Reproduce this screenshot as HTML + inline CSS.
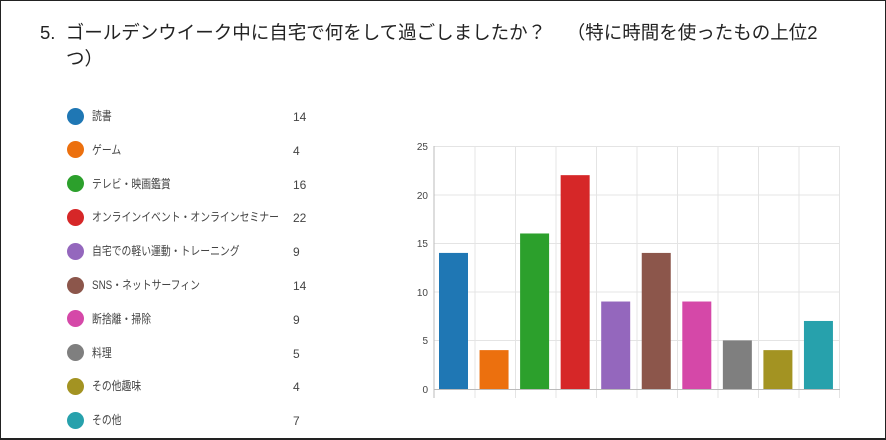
<!DOCTYPE html>
<html><head><meta charset="utf-8"><style>
body{margin:0;width:886px;height:440px;overflow:hidden;background:#fff;}
.frame{position:absolute;left:0;top:0;width:884px;height:437px;border:1px solid #222;border-bottom-width:2px;}
.t{position:absolute;font-family:"Liberation Sans","Noto Sans CJK JP",sans-serif;color:#333;white-space:nowrap;}
.title{font-size:18.5px;left:40px;top:20px;line-height:26px;color:#222;}
.leg{font-size:12px;color:#444;line-height:16px;}
.lab{transform:scaleX(0.82);transform-origin:left center;}
.dot{position:absolute;width:17px;height:17px;border-radius:50%;left:67px;}
</style></head><body>
<div class="frame"></div>
<div class="t title">5.&nbsp; ゴールデンウイーク中に自宅で何をして過ごしましたか？&nbsp;&nbsp;&nbsp;&nbsp;（特に時間を使ったもの上位2<br><span style="padding-left:26px">つ）</span></div>
<div id="legend"></div>
<svg style="position:absolute;left:0;top:0" width="886" height="440" font-family="Liberation Sans, sans-serif" font-size="10" fill="#444">
<g stroke="#e4e4e4" stroke-width="1">
<line x1="434" y1="146.5" x2="840" y2="146.5"/><line x1="434" y1="195" x2="840" y2="195"/><line x1="434" y1="243.5" x2="840" y2="243.5"/><line x1="434" y1="292" x2="840" y2="292"/><line x1="434" y1="340.5" x2="840" y2="340.5"/>
<line x1="475" y1="146" x2="475" y2="398"/><line x1="515.5" y1="146" x2="515.5" y2="398"/><line x1="556" y1="146" x2="556" y2="398"/><line x1="596.5" y1="146" x2="596.5" y2="398"/><line x1="637" y1="146" x2="637" y2="398"/><line x1="677.5" y1="146" x2="677.5" y2="398"/><line x1="718" y1="146" x2="718" y2="398"/><line x1="758.5" y1="146" x2="758.5" y2="398"/><line x1="799" y1="146" x2="799" y2="398"/><line x1="839.5" y1="146" x2="839.5" y2="398"/>
</g>
<g id="bars"></g>
<line x1="434" y1="146" x2="434" y2="398" stroke="#bbb"/>
<line x1="434" y1="389.5" x2="840" y2="389.5" stroke="#bbb"/>
<g text-anchor="end"><text x="428" y="393">0</text><text x="428" y="344">5</text><text x="428" y="296">10</text><text x="428" y="247">15</text><text x="428" y="199">20</text><text x="428" y="150">25</text></g>
</svg>
<script>
var d=[["読書",14,"#1f77b4"],["ゲーム",4,"#ec700e"],["テレビ・映画鑑賞",16,"#2ca02c"],["オンラインイベント・オンラインセミナー",22,"#d62728"],["自宅での軽い運動・トレーニング",9,"#9467bd"],["SNS・ネットサーフィン",14,"#8c564b"],["断捨離・掃除",9,"#d548a8"],["料理",5,"#7f7f7f"],["その他趣味",4,"#a39322"],["その他",7,"#27a1ac"]];
var L="",B="";
d.forEach(function(r,i){var y=116+i*33.8;
L+='<div class="dot" style="top:'+(y-8.5)+'px;background:'+r[2]+'"></div><div class="t leg lab" style="left:92px;top:'+(y-8)+'px">'+r[0]+'</div><div class="t leg" style="left:293px;top:'+(y-7)+'px">'+r[1]+'</div>';
var h=r[1]*9.72,x=439+i*40.55;
B+='<rect x="'+x+'" y="'+(389-h)+'" width="29" height="'+h+'" fill="'+r[2]+'"/>';});
document.getElementById("legend").innerHTML=L;
document.getElementById("bars").innerHTML=B;
</script>
</body></html>
